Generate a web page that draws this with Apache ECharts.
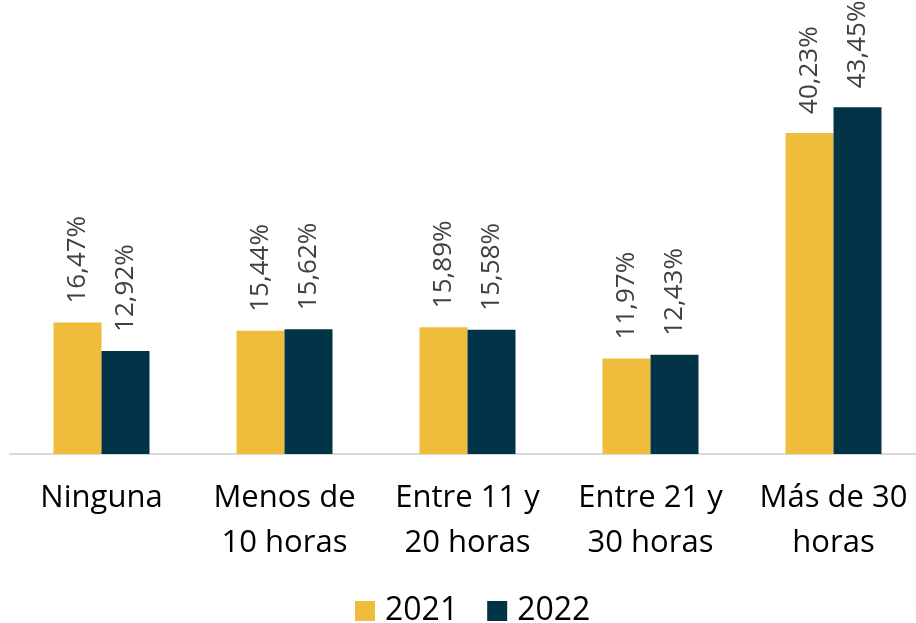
<!DOCTYPE html>
<html>
<head>
<meta charset="utf-8">
<script src="https://cdn.jsdelivr.net/npm/echarts@6/dist/echarts.min.js"></script>
<style>
  html, body { margin: 0; padding: 0; background: #fff; }
  #chart { width: 916px; height: 623px; }
</style>
</head>
<body>
<div id="chart"></div>
<script>
var categories = ['Ninguna', 'Menos de\n10 horas', 'Entre 11 y\n20 horas', 'Entre 21 y\n30 horas', 'Más de 30\nhoras'];
var values2021 = [16.47, 15.44, 15.89, 11.97, 40.23];
var values2022 = [12.92, 15.62, 15.58, 12.43, 43.45];

function fmt(v) {
  return v.toFixed(2).replace('.', ',') + '%';
}

var labelStyle = {
  show: true,
  position: 'top',
  rotate: 90,
  align: 'left',
  verticalAlign: 'middle',
  distance: 19,
  fontFamily: 'Open Sans',
  fontSize: 26,
  color: '#404040',
  formatter: function (p) { return fmt(p.value); }
};

var option = {
  backgroundColor: '#fff',
  animation: false,
  textStyle: { fontFamily: 'Open Sans' },
  grid: { left: 10, width: 915, top: 55, bottom: 169, outerBoundsMode: 'none', containLabel: false },
  legend: {
    top: 590,
    left: 350,
    icon: 'rect',
    itemWidth: 20,
    itemHeight: 20,
    itemGap: 29,
    textStyle: { fontSize: 32, color: '#000', fontFamily: 'Open Sans', padding: [0, 0, 0, 5] },
    data: ['2021', '2022']
  },
  xAxis: {
    type: 'category',
    data: categories,
    axisTick: { show: false },
    axisLine: { lineStyle: { color: '#d9d9d9', width: 2 } },
    axisLabel: {
      color: '#000',
      fontSize: 31,
      lineHeight: 45,
      margin: 22,
      interval: 0
    }
  },
  yAxis: {
    type: 'value',
    min: 0,
    max: 50,
    show: false
  },
  series: [{
    name: '2021',
    type: 'bar',
    barWidth: 48,
    barGap: '0%',
    itemStyle: { color: '#F0BC3B' },
    label: labelStyle,
    data: values2021
  }, {
    name: '2022',
    type: 'bar',
    barWidth: 48,
    barGap: '0%',
    itemStyle: { color: '#023447' },
    label: labelStyle,
    data: values2022
  }]
};

var chart = echarts.init(document.getElementById('chart'));
chart.setOption(option);
</script>
</body>
</html>
